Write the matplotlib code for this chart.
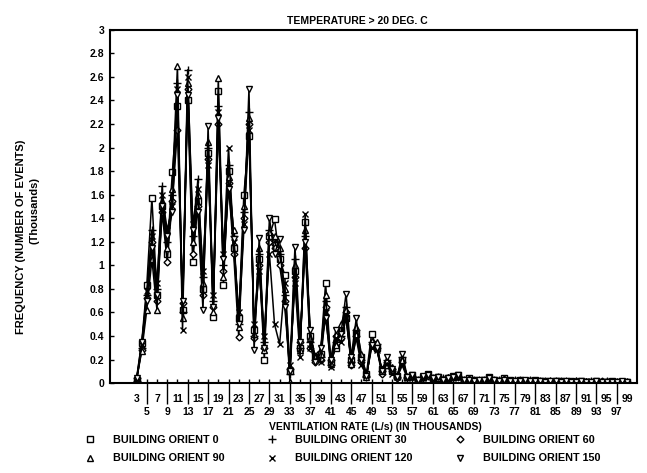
#frequency vs ventilation rate, six building orientations
import matplotlib
matplotlib.use('Agg')
import matplotlib.pyplot as plt
from matplotlib.lines import Line2D

plt.rcParams['font.family'] = ['Liberation Sans', 'DejaVu Sans']
plt.rcParams['font.weight'] = 'bold'

#ventilation rate categories (thousands of L/s)
rates = list(range(3, 100))

#frequency values (thousands of events), one list per orientation
orient_0 = [0.03, 0.34, 0.83, 1.57, 0.75, 1.50, 1.10, 1.79, 2.35, 0.62,
            2.40, 1.03, 1.55, 0.80, 1.95, 0.56, 2.48, 0.83, 1.80, 1.15,
            0.55, 1.60, 2.10, 0.45, 1.05, 0.20, 1.25, 1.39, 1.05, 0.92,
            0.10, 0.95, 0.30, 1.37, 0.40, 0.22, 0.25, 0.85, 0.18, 0.30,
            0.45, 0.55, 0.20, 0.42, 0.22, 0.08, 0.42, 0.30, 0.12, 0.15,
            0.10, 0.06, 0.20, 0.05, 0.07, 0.03, 0.05, 0.08, 0.04, 0.05,
            0.03, 0.04, 0.06, 0.07, 0.03, 0.04, 0.03, 0.02, 0.03, 0.05,
            0.03, 0.02, 0.04, 0.03, 0.02, 0.03, 0.02, 0.02, 0.03, 0.02,
            0.02, 0.01, 0.02, 0.02, 0.01, 0.02, 0.01, 0.02, 0.01, 0.01,
            0.02, 0.01, 0.01, 0.02, 0.01, 0.01, 0.01]
orient_30 = [0.02, 0.30, 0.75, 1.30, 0.80, 1.67, 1.20, 1.60, 2.55, 0.60,
             2.66, 1.25, 1.73, 0.90, 2.00, 0.70, 2.35, 1.00, 1.85, 1.25,
             0.50, 1.45, 2.30, 0.40, 1.10, 0.35, 1.30, 1.20, 1.10, 0.75,
             0.08, 1.05, 0.30, 1.25, 0.35, 0.20, 0.22, 0.70, 0.15, 0.35,
             0.40, 0.65, 0.18, 0.45, 0.20, 0.05, 0.35, 0.33, 0.10, 0.20,
             0.12, 0.05, 0.22, 0.04, 0.06, 0.03, 0.04, 0.07, 0.03, 0.05,
             0.04, 0.03, 0.05, 0.06, 0.03, 0.03, 0.02, 0.03, 0.02, 0.04,
             0.02, 0.03, 0.03, 0.02, 0.03, 0.02, 0.02, 0.03, 0.02, 0.02,
             0.01, 0.02, 0.02, 0.01, 0.02, 0.01, 0.02, 0.01, 0.01, 0.02,
             0.01, 0.01, 0.02, 0.01, 0.01, 0.01, 0.01]
orient_60 = [0.04, 0.28, 0.72, 1.20, 0.70, 1.45, 1.03, 1.55, 2.15, 0.68,
             2.50, 1.10, 1.50, 0.75, 1.90, 0.65, 2.20, 0.95, 1.70, 1.10,
             0.39, 1.40, 2.20, 0.38, 1.00, 0.30, 1.20, 1.15, 1.00, 0.70,
             0.12, 0.90, 0.35, 1.15, 0.30, 0.18, 0.20, 0.65, 0.20, 0.40,
             0.38, 0.60, 0.15, 0.40, 0.18, 0.06, 0.33, 0.30, 0.08, 0.18,
             0.10, 0.04, 0.18, 0.05, 0.05, 0.02, 0.05, 0.06, 0.04, 0.04,
             0.03, 0.04, 0.05, 0.05, 0.02, 0.03, 0.03, 0.02, 0.03, 0.04,
             0.03, 0.02, 0.03, 0.02, 0.02, 0.03, 0.02, 0.02, 0.02, 0.01,
             0.02, 0.02, 0.01, 0.02, 0.01, 0.01, 0.02, 0.01, 0.01, 0.01,
             0.01, 0.02, 0.01, 0.01, 0.01, 0.01, 0.01]
orient_90 = [0.03, 0.27, 0.62, 1.05, 0.62, 1.55, 1.15, 1.65, 2.69, 0.55,
             2.55, 1.20, 1.60, 0.85, 2.05, 0.60, 2.59, 0.90, 1.75, 1.30,
             0.48, 1.50, 2.25, 0.42, 1.15, 0.28, 1.28, 1.25, 1.15, 0.80,
             0.01, 1.00, 0.28, 1.30, 0.38, 0.22, 0.25, 0.75, 0.16, 0.32,
             0.50, 0.62, 0.16, 0.48, 0.25, 0.05, 0.36, 0.35, 0.10, 0.15,
             0.14, 0.06, 0.20, 0.05, 0.06, 0.03, 0.05, 0.08, 0.03, 0.04,
             0.03, 0.05, 0.05, 0.06, 0.02, 0.04, 0.03, 0.02, 0.03, 0.05,
             0.02, 0.03, 0.04, 0.03, 0.02, 0.03, 0.02, 0.03, 0.02, 0.02,
             0.02, 0.01, 0.02, 0.02, 0.01, 0.02, 0.01, 0.01, 0.02, 0.01,
             0.01, 0.01, 0.02, 0.01, 0.01, 0.01, 0.01]
orient_120 = [0.02, 0.32, 0.78, 1.25, 0.85, 1.60, 1.30, 1.50, 2.50, 0.45,
              2.60, 1.35, 1.65, 0.95, 1.85, 0.75, 2.30, 1.10, 2.00, 1.20,
              0.60, 1.35, 2.15, 0.50, 0.95, 0.40, 1.10, 0.50, 0.33, 0.85,
              0.15, 0.85, 0.22, 1.44, 0.30, 0.25, 0.18, 0.60, 0.14, 0.38,
              0.35, 0.55, 0.20, 0.38, 0.15, 0.07, 0.30, 0.28, 0.12, 0.16,
              0.08, 0.05, 0.15, 0.04, 0.05, 0.02, 0.04, 0.06, 0.03, 0.04,
              0.04, 0.03, 0.04, 0.05, 0.03, 0.02, 0.03, 0.02, 0.02, 0.03,
              0.02, 0.02, 0.03, 0.02, 0.03, 0.02, 0.02, 0.02, 0.01, 0.02,
              0.02, 0.01, 0.01, 0.02, 0.01, 0.02, 0.01, 0.01, 0.01, 0.02,
              0.01, 0.01, 0.01, 0.01, 0.02, 0.01, 0.01]
orient_150 = [0.04, 0.35, 0.70, 1.15, 0.75, 1.50, 1.25, 1.45, 2.45, 0.70,
              2.45, 1.30, 1.45, 0.62, 2.18, 0.65, 2.25, 1.05, 1.65, 1.22,
              0.50, 1.30, 2.50, 0.28, 1.23, 0.30, 1.40, 1.10, 1.22, 0.65,
              0.10, 1.16, 0.35, 1.20, 0.45, 0.18, 0.30, 0.55, 0.20, 0.45,
              0.42, 0.76, 0.22, 0.55, 0.20, 0.06, 0.32, 0.30, 0.10, 0.22,
              0.12, 0.05, 0.25, 0.05, 0.07, 0.03, 0.06, 0.07, 0.04, 0.05,
              0.03, 0.04, 0.05, 0.07, 0.03, 0.03, 0.02, 0.03, 0.03, 0.04,
              0.03, 0.02, 0.03, 0.02, 0.02, 0.02, 0.03, 0.02, 0.02, 0.02,
              0.01, 0.02, 0.02, 0.01, 0.02, 0.01, 0.01, 0.02, 0.01, 0.01,
              0.02, 0.01, 0.01, 0.01, 0.01, 0.02, 0.01]

series_names = ['BUILDING ORIENT 0', 'BUILDING ORIENT 30', 'BUILDING ORIENT 60',
                'BUILDING ORIENT 90', 'BUILDING ORIENT 120', 'BUILDING ORIENT 150']
series_values = [orient_0, orient_30, orient_60, orient_90, orient_120, orient_150]
markers = ['s', '+', 'D', '^', 'x', 'v']
marker_sizes = [5, 6, 3.5, 5, 5, 5]

y_ticks = [0, 0.2, 0.4, 0.6, 0.8, 1, 1.2, 1.4, 1.6, 1.8, 2, 2.2, 2.4, 2.6, 2.8, 3]
x_ticks = list(range(3, 100, 2))
x_top_row = x_ticks[0::2]      #3, 7, 11 ... 99
x_bottom_row = x_ticks[1::2]   #5, 9, 13 ... 97

fig = plt.figure(figsize=(6.47, 4.73), dpi=100)
ax = fig.add_axes([0.170, 0.190, 0.815, 0.747])

handles = []
for name, vals, m, ms in zip(series_names, series_values, markers, marker_sizes):
	ax.plot(rates, vals, color='black', linewidth=1.1, marker=m, markersize=ms,
	        markerfacecolor='white', markeredgecolor='black', markeredgewidth=1.0)
	handles.append(Line2D([], [], linestyle='none', marker=m, markersize=ms,
	                      markerfacecolor='white', markeredgecolor='black', markeredgewidth=1.0))

ax.set_xlim(-2.2, 101.0)
ax.set_ylim(0, 3)
ax.set_yticks(y_ticks)
ax.set_yticklabels([('%g' % t) for t in y_ticks], fontsize=7.5, fontweight='bold')

#two rows of x labels: major ticks hold the top row, minor ticks the bottom row
#the long outward minor ticks act as the separators between top row labels
ax.xaxis.remove_overlapping_locs = False
ax.set_xticks(x_ticks)
ax.set_xticklabels([str(t) if t in x_top_row else '' for t in x_ticks], fontsize=7.5, fontweight='bold')
ax.set_xticks(x_bottom_row, minor=True)
ax.set_xticklabels([str(t) for t in x_bottom_row], minor=True, fontsize=7.5, fontweight='bold')
ax.tick_params(axis='x', which='major', direction='in', length=3, width=1, pad=8)
ax.tick_params(axis='x', which='minor', direction='out', length=15, width=1, pad=2)
ax.tick_params(axis='y', direction='in', length=3, width=1, pad=4)
for s in ax.spines.values():
	s.set_linewidth(1.5)

fig.text(0.553, 0.955, 'TEMPERATURE > 20 DEG. C', ha='center', va='center', fontsize=7.5, fontweight='bold')
fig.text(0.58, 0.097, 'VENTILATION RATE (L/s) (IN THOUSANDS)', ha='center', va='center', fontsize=7.5, fontweight='bold')
fig.text(0.033, 0.50, 'FREQUENCY (NUMBER OF EVENTS)', ha='center', va='center', rotation=90, fontsize=8, fontweight='bold')
fig.text(0.054, 0.555, '(Thousands)', ha='center', va='center', rotation=90, fontsize=8, fontweight='bold')

#legend laid out row by row in three columns
order = [0, 3, 1, 4, 2, 5]
fig.legend([handles[i] for i in order], [series_names[i] for i in order], ncol=3,
           loc='center left', bbox_to_anchor=(0.124, 0.050), frameon=False,
           fontsize=7.8, handlelength=1.0, handletextpad=1.6, columnspacing=3.9,
           labelspacing=0.75, borderaxespad=0.0)

fig.savefig('out.png', dpi=100, facecolor='white')
